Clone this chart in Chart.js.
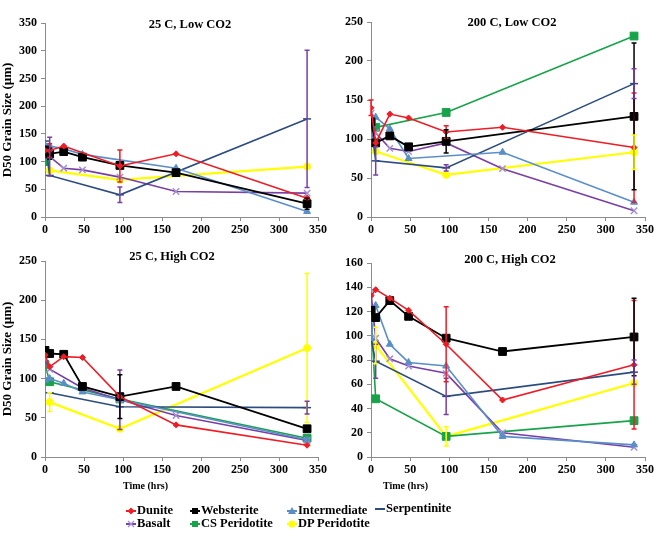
<!DOCTYPE html>
<html>
<head>
<meta charset="utf-8">
<script src="https://cdn.jsdelivr.net/npm/chart.js@4.4.0/dist/chart.umd.min.js"></script>
<style>
    body { margin: 0; background: #fff; }
    #wrap { position: relative; width: 658px; height: 543px; font-family: "Liberation Serif", "Times New Roman", serif; font-weight: bold; color: #000; }
    canvas { position: absolute; }
    .title { position: absolute; font-size: 12.5px; transform: translateX(-50%); white-space: nowrap; }
    .xlab { position: absolute; font-size: 10px; white-space: nowrap; }
    .leg { position: absolute; font-size: 12.5px; white-space: nowrap; display: flex; align-items: center; }
    .leg svg { margin-right: 1px; }
</style>
</head>
<body>
<div id="wrap">
    <canvas id="c1" width="330" height="245" style="left:0;top:0"></canvas>
    <canvas id="c2" width="328" height="245" style="left:330px;top:0"></canvas>
    <canvas id="c3" width="330" height="245" style="left:0;top:240px"></canvas>
    <canvas id="c4" width="328" height="245" style="left:330px;top:240px"></canvas>

    <div class="title" style="left:190px;top:17px">25 C, Low CO2</div>
    <div class="title" style="left:512px;top:15px">200 C, Low CO2</div>
    <div class="title" style="left:172px;top:249px">25 C, High CO2</div>
    <div class="title" style="left:510px;top:252px">200 C, High CO2</div>

    <div class="xlab" style="left:123px;top:480px">Time (hrs)</div>
    <div class="xlab" style="left:383px;top:480px">Time (hrs)</div>

    <div id="legend"></div>
</div>

<script>
// sampling times (hrs)
const times = [0, 6, 24, 48, 96, 168, 336];

const seriesNames = ["Dunite", "Websterite", "Intermediate", "Serpentinite", "Basalt", "CS Peridotite", "DP Peridotite"];

// 25 C, Low CO2
const lowCO2_25_dunite       = [120, 120, 128, null, 92, 114, 34];
const lowCO2_25_websterite   = [121, 114, 118, 108, 93, 80, 24];
const lowCO2_25_intermediate = [130, 128, 123, 113, null, 88, 10];
const lowCO2_25_serpentinite = [137, 75, null, null, 40, null, 177];
const lowCO2_25_basalt       = [126, 109, 88, 85, 72, 46, 43];
const lowCO2_25_csPeridotite = [100, null, null, null, null, null, null];
const lowCO2_25_dpPeridotite = [103, 84, null, null, 67, null, 91];

// 200 C, Low CO2
const lowCO2_200_dunite       = [140, 95, 132, 127, 109, 115, 89];
const lowCO2_200_websterite   = [122, 95, 104, 90, 97, null, 129];
const lowCO2_200_intermediate = [100, 128, 113, 75, null, 83, 19];
const lowCO2_200_serpentinite = [120, 72, null, null, 63, null, 171];
const lowCO2_200_basalt       = [133, 108, 88, 84, 95, 62, 8];
const lowCO2_200_csPeridotite = [118, 115, null, null, 134, null, 232];
const lowCO2_200_dpPeridotite = [100, 84, null, null, 54, null, 83];

// 25 C, High CO2
const highCO2_25_dunite       = [130, 115, 128, 127, 77, 41, 15];
const highCO2_25_websterite   = [136, 132, 131, 90, 77, 90, 36];
const highCO2_25_intermediate = [98, 100, 94, 83, 73, null, 22];
const highCO2_25_serpentinite = [null, 82, null, null, 64, null, 63];
const highCO2_25_basalt       = [125, 112, null, 88, 73, 53, 21];
const highCO2_25_csPeridotite = [118, 96, null, null, 74, null, 24];
const highCO2_25_dpPeridotite = [null, 70, null, null, 36, null, 139];

// 200 C, High CO2
const highCO2_200_dunite       = [133, 138, 131, 121, 93, 47, 76];
const highCO2_200_websterite   = [121, 115, 129, 116, 98, 87, 99];
const highCO2_200_intermediate = [98, 125, 93, 78, 75, 17, 10];
const highCO2_200_serpentinite = [97, 79, null, null, 50, null, 70];
const highCO2_200_basalt       = [136, 98, 81, 75, 69, 20, 8];
const highCO2_200_csPeridotite = [117, 48, null, null, 17, null, 30];
const highCO2_200_dpPeridotite = [null, 92, null, null, 17, null, 61];

// error bars: [series, time, +/-]
const lowCO2_25_err = [
    ["Dunite", 6, 12], ["Websterite", 6, 10], ["Basalt", 6, 35],
    ["Dunite", 96, 29], ["Serpentinite", 96, 14],
    ["Websterite", 336, 10], ["Serpentinite", 336, 124]
];
const lowCO2_200_err = [
    ["Dunite", 0, 10], ["Serpentinite", 6, 18],
    ["Dunite", 96, 8], ["Websterite", 96, 15], ["Serpentinite", 96, 4],
    ["Dunite", 336, 70], ["Websterite", 336, 94], ["Serpentinite", 336, 19], ["DP Peridotite", 336, 22]
];
const highCO2_25_err = [
    ["Basalt", 96, 38], ["Websterite", 96, 28], ["DP Peridotite", 6, 12],
    ["DP Peridotite", 336, 95], ["Serpentinite", 336, 8]
];
const highCO2_200_err = [
    ["Serpentinite", 6, 14], ["DP Peridotite", 6, 15],
    ["Serpentinite", 96, 15], ["Dunite", 96, 31], ["DP Peridotite", 96, 8],
    ["Dunite", 336, 53], ["Websterite", 336, 32], ["Serpentinite", 336, 10]
];

const seriesStyle = {
    "Dunite":        { color: "#ee1c25", point: "rectRot",  r: 3,   w: 1.6 },
    "Websterite":    { color: "#000000", point: "rect",     r: 5.5, w: 1.8 },
    "Intermediate":  { color: "#5b8ec9", point: "triangle", r: 4,   w: 1.6 },
    "Serpentinite":  { color: "#2c4c7f", point: "line",     r: 4,   w: 1.6, err: "#7a3fa6" },
    "Basalt":        { color: "#7a3fa6", point: "crossRot", r: 4.5, w: 1.6, pt: "#a390d0" },
    "CS Peridotite": { color: "#17a34a", point: "rect",     r: 5.5, w: 1.6 },
    "DP Peridotite": { color: "#ffff00", point: "circle",   r: 3.5, w: 2.2 }
};

const errorBars = {
    id: "errorBars",
    afterDatasetsDraw(chart, args, opts) {
        const ctx = chart.ctx;
        const xs = chart.scales.x;
        const ys = chart.scales.y;
        ctx.save();
        (opts.bars || []).forEach(([name, t, e]) => {
            const ds = chart.data.datasets.find(d => d.label === name);
            const pt = ds && ds.data.find(p => p.x === t);
            if (!pt) return;
            const st = seriesStyle[name];
            const x = xs.getPixelForValue(t);
            const yTop = ys.getPixelForValue(Math.min(pt.y + e, ys.max));
            const yBot = ys.getPixelForValue(Math.max(pt.y - e, ys.min));
            ctx.strokeStyle = st.err || st.color;
            ctx.lineWidth = 1.5;
            ctx.beginPath();
            ctx.moveTo(x, yTop); ctx.lineTo(x, yBot);
            ctx.moveTo(x - 2.5, yTop); ctx.lineTo(x + 2.5, yTop);
            ctx.moveTo(x - 2.5, yBot); ctx.lineTo(x + 2.5, yBot);
            ctx.stroke();
        });
        ctx.restore();
    }
};

function makeDatasets(values) {
    return seriesNames.map((name, i) => {
        const st = seriesStyle[name];
        return {
            label: name,
            data: times.map((t, j) => ({ x: t, y: values[i][j] })).filter(p => p.y !== null),
            borderColor: st.color,
            backgroundColor: st.color,
            borderWidth: st.w,
            pointStyle: st.point,
            pointRadius: st.r,
            pointBorderColor: st.pt || st.color,
            pointBackgroundColor: st.pt || st.color,
            pointBorderWidth: st.point === "crossRot" || st.point === "line" ? 1.5 : 1,
            tension: 0,
            fill: false
        };
    });
}

const tickFont = { family: "Liberation Serif", size: 12, weight: "bold" };
const yTitleFont = { family: "Liberation Serif", size: 13, weight: "bold" };

function makeChart(id, values, yMax, yStep, errs, box) {
    new Chart(document.getElementById(id), {
        type: "line",
        data: { datasets: makeDatasets(values) },
        plugins: [errorBars],
        options: {
            responsive: false,
            animation: false,
            devicePixelRatio: 1,
            layout: { padding: { top: box.top, right: box.right, left: 0, bottom: 0 } },
            plugins: {
                legend: { display: false },
                tooltip: { enabled: false },
                errorBars: { bars: errs }
            },
            scales: {
                x: {
                    type: "linear",
                    min: 0,
                    max: 350,
                    ticks: { stepSize: 50, color: "#000", font: tickFont, padding: 2 },
                    grid: { drawOnChartArea: false, drawTicks: true, tickLength: 4, color: "#8c8c8c" },
                    border: { color: "#8c8c8c" },
                    afterFit: s => { s.height = box.xh; }
                },
                y: {
                    min: 0,
                    max: yMax,
                    ticks: { stepSize: yStep, color: "#000", font: tickFont, padding: 4 },
                    grid: { drawOnChartArea: false, drawTicks: true, tickLength: 4, color: "#8c8c8c" },
                    border: { color: "#8c8c8c" },
                    title: {
                        display: box.yTitle,
                        text: "D50 Grain Size (µm)",
                        color: "#000",
                        font: yTitleFont,
                        padding: 0
                    },
                    afterFit: s => { s.width = box.yw; }
                }
            }
        }
    });
}

makeChart("c1",
    [lowCO2_25_dunite, lowCO2_25_websterite, lowCO2_25_intermediate, lowCO2_25_serpentinite,
     lowCO2_25_basalt, lowCO2_25_csPeridotite, lowCO2_25_dpPeridotite],
    350, 50, lowCO2_25_err, { top: 23, right: 12, xh: 28, yw: 45, yTitle: true });

makeChart("c2",
    [lowCO2_200_dunite, lowCO2_200_websterite, lowCO2_200_intermediate, lowCO2_200_serpentinite,
     lowCO2_200_basalt, lowCO2_200_csPeridotite, lowCO2_200_dpPeridotite],
    250, 50, lowCO2_200_err, { top: 22, right: 13, xh: 28, yw: 41, yTitle: false });

makeChart("c3",
    [highCO2_25_dunite, highCO2_25_websterite, highCO2_25_intermediate, highCO2_25_serpentinite,
     highCO2_25_basalt, highCO2_25_csPeridotite, highCO2_25_dpPeridotite],
    250, 50, highCO2_25_err, { top: 21, right: 12, xh: 28, yw: 45, yTitle: true });

makeChart("c4",
    [highCO2_200_dunite, highCO2_200_websterite, highCO2_200_intermediate, highCO2_200_serpentinite,
     highCO2_200_basalt, highCO2_200_csPeridotite, highCO2_200_dpPeridotite],
    160, 20, highCO2_200_err, { top: 23, right: 13, xh: 28, yw: 41, yTitle: false });

// legend
function markerSvg(name) {
    const st = seriesStyle[name];
    const c = st.color;
    const p = st.pt || c;
    let m = "";
    if (st.point === "rectRot") m = `<polygon points="5,1.5 8.5,5 5,8.5 1.5,5" fill="${p}"/>`;
    else if (st.point === "rect") m = `<rect x="2" y="2" width="6" height="6" fill="${p}"/>`;
    else if (st.point === "triangle") m = `<polygon points="5,1 9,8 1,8" fill="${p}"/>`;
    else if (st.point === "crossRot") m = `<path d="M2,2 L8,8 M8,2 L2,8" stroke="${p}" stroke-width="1.3"/>`;
    else if (st.point === "circle") m = `<circle cx="5" cy="5" r="3.5" fill="${p}"/>`;
    return `<svg width="10" height="10"><line x1="0" y1="5" x2="10" y2="5" stroke="${c}" stroke-width="2"/>${m}</svg>`;
}

const legendPos = {
    "Dunite": [126, 503], "Websterite": [190, 503], "Intermediate": [287, 503], "Serpentinite": [375, 501],
    "Basalt": [126, 516], "CS Peridotite": [190, 516], "DP Peridotite": [287, 516]
};

const legend = document.getElementById("legend");
seriesNames.forEach(name => {
    const el = document.createElement("div");
    el.className = "leg";
    el.style.left = legendPos[name][0] + "px";
    el.style.top = legendPos[name][1] + "px";
    el.innerHTML = markerSvg(name) + "<span>" + name + "</span>";
    legend.appendChild(el);
});
</script>
</body>
</html>
